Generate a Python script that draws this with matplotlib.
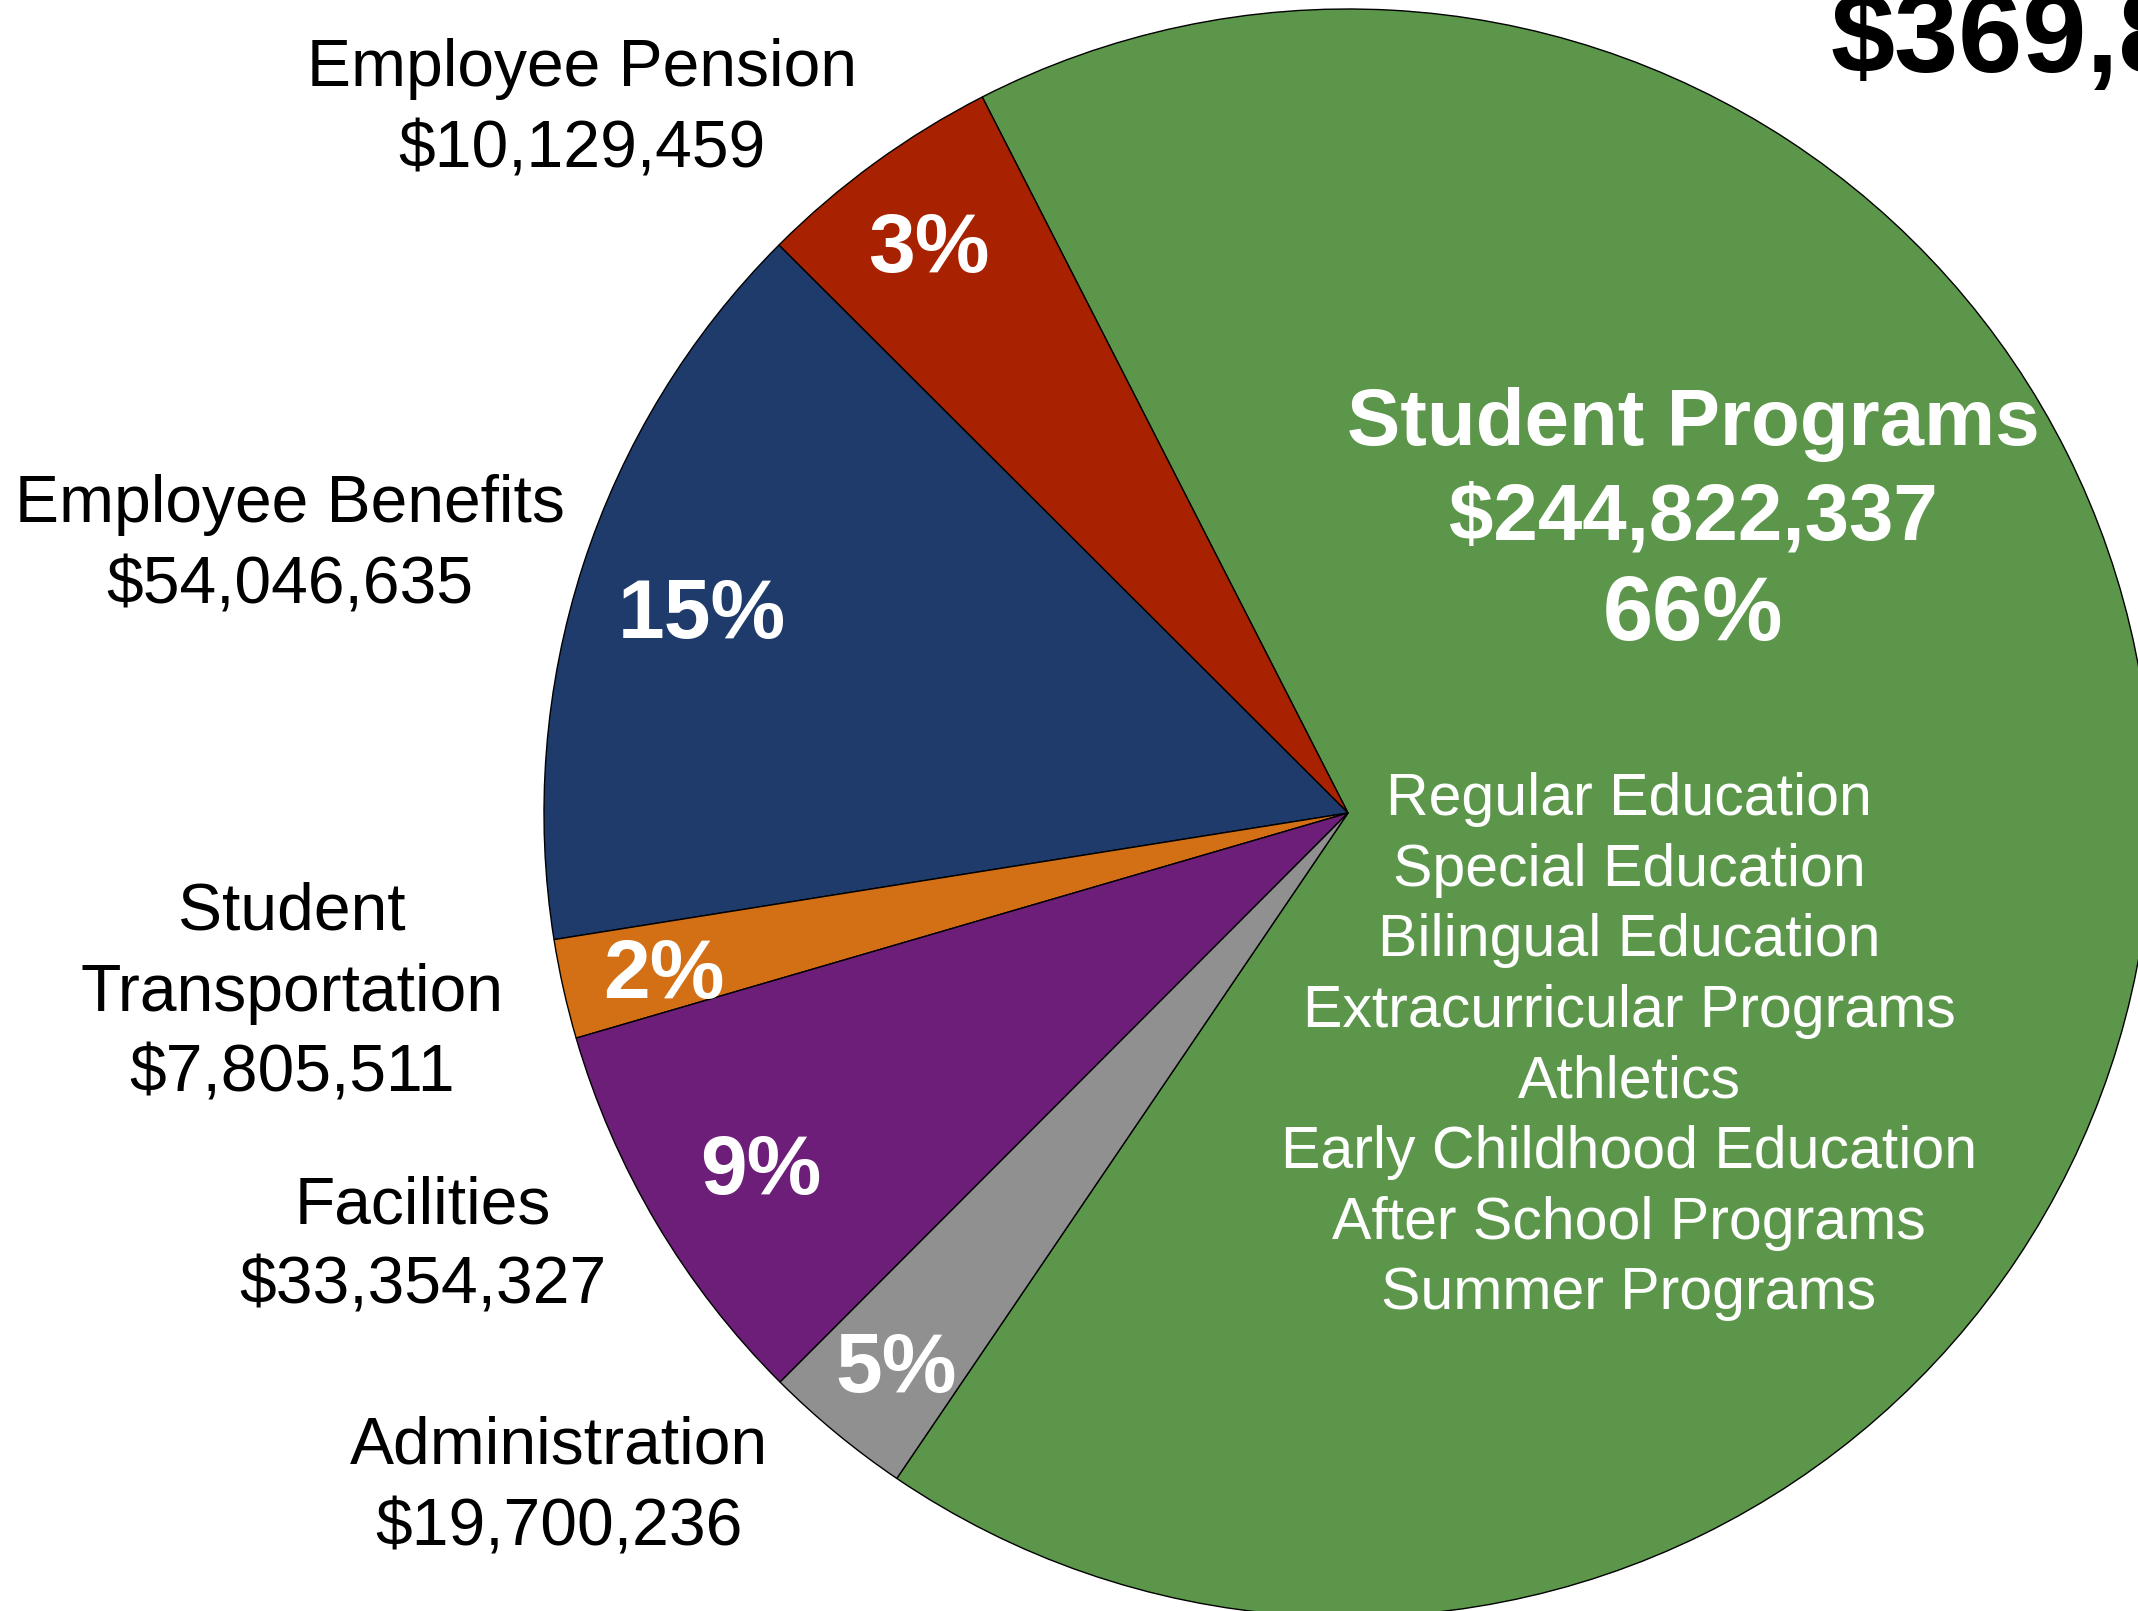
import matplotlib
matplotlib.use("Agg")
import matplotlib.pyplot as plt

# ---------------- data ----------------
categories = ["Student Programs", "Employee Pension", "Employee Benefits",
              "Student Transportation", "Facilities", "Administration"]
amounts = [244822337, 10129459, 54046635, 7805511, 33354327, 19700236]
pct_labels = [66, 3, 15, 2, 9, 5]
# slice sizes as drawn in the picture (percent of the circle)
wedge_share_pct = [67, 5, 15, 2, 8, 3]
colors = ["#5C964A", "#A82100", "#1F3B6B", "#D37015", "#6C1E78", "#909090"]
program_items = ["Regular Education", "Special Education", "Bilingual Education",
                 "Extracurricular Programs", "Athletics", "Early Childhood Education",
                 "After School Programs", "Summer Programs"]
label_lines = {
    "Employee Pension": ["Employee Pension"],
    "Employee Benefits": ["Employee Benefits"],
    "Student Transportation": ["Student", "Transportation"],
    "Facilities": ["Facilities"],
    "Administration": ["Administration"],
}

# ---------------- figure ----------------
W, H = 2138, 1611
plt.rcParams['font.family'] = ['Liberation Sans', 'DejaVu Sans']
fig = plt.figure(figsize=(W / 100, H / 100), dpi=100)
ax = fig.add_axes([0, 0, 1, 1])

cx, cy, R = 1348, 813, 804
ax.pie(wedge_share_pct, colors=colors, startangle=235.86, counterclock=True,
       center=(cx, H - cy), radius=R,
       wedgeprops=dict(edgecolor="black", linewidth=1.0))
ax.set_xlim(0, W)
ax.set_ylim(0, H)
ax.set_aspect('equal')
ax.axis('off')


def T(x, y, s, **kw):
    kw.setdefault('ha', 'center')
    ax.text(x, H - y, s, va='baseline', **kw)


money = lambda v: "${:,}".format(v)

# total (clipped at the right edge, as in the reference)
T(1831, 72, money(sum(amounts)), ha='left', fontsize=83, fontweight='bold', color='black')

# outside labels: (x centre, first baseline)
label_pos = {
    "Employee Pension": (582, 86),
    "Employee Benefits": (290, 522),
    "Student Transportation": (292, 930),
    "Facilities": (423, 1223),
    "Administration": (559, 1464),
}
line_gap = 81
for cat, amt in zip(categories, amounts):
    if cat not in label_pos:
        continue
    x, y = label_pos[cat]
    lines = label_lines[cat] + [money(amt)]
    for i, ln in enumerate(lines):
        T(x, y + i * line_gap, ln, fontsize=47.5, color='black')

# percent labels inside wedges
pct_pos = {
    "Employee Pension": (929, 272),
    "Employee Benefits": (702, 638),
    "Student Transportation": (664, 998),
    "Facilities": (761, 1194),
    "Administration": (896, 1392),
}
for cat, p in zip(categories, pct_labels):
    if cat in pct_pos:
        x, y = pct_pos[cat]
        T(x, y, f"{p}%", fontsize=60.5, fontweight='bold', color='white')

# Student programs block
sx = 1693
T(sx, 445, categories[0], fontsize=57.5, fontweight='bold', color='white')
T(sx, 540, money(amounts[0]), fontsize=57.5, fontweight='bold', color='white')
T(sx, 640, f"{pct_labels[0]}%", fontsize=65, fontweight='bold', color='white')

for i, item in enumerate(program_items):
    T(1629, 815 + i * 70.6, item, fontsize=42.5, color='white')

fig.savefig("out.png", dpi=100)
